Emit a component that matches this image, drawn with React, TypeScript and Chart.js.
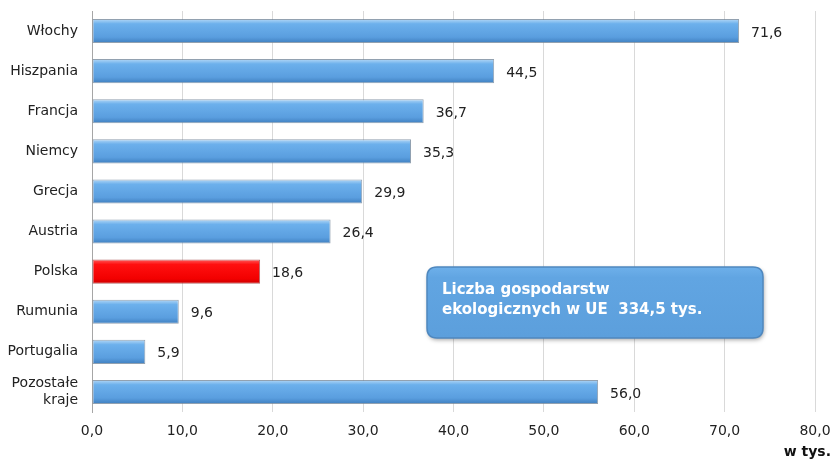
import React, { useEffect, useRef } from "react";
import { Chart, registerables } from "chart.js";

Chart.register(...registerables);

const categories: (string | string[])[] = [
  "Włochy",
  "Hiszpania",
  "Francja",
  "Niemcy",
  "Grecja",
  "Austria",
  "Polska",
  "Rumunia",
  "Portugalia",
  ["Pozostałe", "kraje"],
];
const values: number[] = [71.6, 44.5, 36.7, 35.3, 29.9, 26.4, 18.6, 9.6, 5.9, 56.0];
const highlightIndex = 6;
const xTicks: number[] = [0, 10, 20, 30, 40, 50, 60, 70, 80];
const axisUnit = "w tys.";
const boxLines: string[] = ["Liczba gospodarstw", "ekologicznych w UE  334,5 tys."];

const FONT = "'DejaVu Sans', Verdana, sans-serif";
const fmt = (v: number) => v.toFixed(1).replace(".", ",");

function roundRect(ctx: CanvasRenderingContext2D, x: number, y: number, w: number, h: number, r: number) {
  ctx.beginPath();
  ctx.moveTo(x + r, y);
  ctx.lineTo(x + w - r, y);
  ctx.quadraticCurveTo(x + w, y, x + w, y + r);
  ctx.lineTo(x + w, y + h - r);
  ctx.quadraticCurveTo(x + w, y + h, x + w - r, y + h);
  ctx.lineTo(x + r, y + h);
  ctx.quadraticCurveTo(x, y + h, x, y + h - r);
  ctx.lineTo(x, y + r);
  ctx.quadraticCurveTo(x, y, x + r, y);
  ctx.closePath();
}

const extrasPlugin = {
  id: "extras",
  afterDatasetsDraw(chart: any) {
    const ctx: CanvasRenderingContext2D = chart.ctx;
    const meta = chart.getDatasetMeta(0);
    ctx.save();
    ctx.font = `14px ${FONT}`;
    ctx.fillStyle = "#222";
    ctx.textAlign = "left";
    ctx.textBaseline = "middle";
    meta.data.forEach((bar: any, i: number) => {
      ctx.fillText(fmt(values[i]), bar.x + 12, bar.y + 2);
    });
    ctx.restore();
  },
  afterDraw(chart: any) {
    const ctx: CanvasRenderingContext2D = chart.ctx;
    ctx.save();
    ctx.shadowColor = "rgba(0,0,0,0.35)";
    ctx.shadowBlur = 4;
    ctx.shadowOffsetX = 1;
    ctx.shadowOffsetY = 2;
    roundRect(ctx, 427, 267, 336, 71, 10);
    const g = ctx.createLinearGradient(0, 267, 0, 338);
    g.addColorStop(0, "#6eb0ea");
    g.addColorStop(0.15, "#61a5e2");
    g.addColorStop(1, "#5c9fdc");
    ctx.fillStyle = g;
    ctx.fill();
    ctx.shadowColor = "transparent";
    ctx.lineWidth = 1.5;
    ctx.strokeStyle = "#4f88bf";
    ctx.stroke();
    ctx.fillStyle = "#ffffff";
    ctx.font = `bold 15px ${FONT}`;
    ctx.textAlign = "left";
    ctx.textBaseline = "middle";
    ctx.fillText(boxLines[0], 442, 290);
    ctx.fillText(boxLines[1], 442, 310);
    ctx.font = `bold 14px ${FONT}`;
    ctx.fillStyle = "#111";
    ctx.textAlign = "right";
    ctx.fillText(axisUnit, 831, 452);
    ctx.restore();
  },
};

function barFill(ctx: any) {
  const chart = ctx.chart;
  const red = ctx.dataIndex === highlightIndex;
  const base = red ? "#f00000" : "#5ea2e2";
  const ys = chart.scales && chart.scales.y;
  if (!ys || ctx.dataIndex === undefined) return base;
  const cy = ys.getPixelForValue(ctx.dataIndex);
  if (!Number.isFinite(cy)) return base;
  const half = 12;
  const g = chart.ctx.createLinearGradient(0, cy - half, 0, cy + half);
  if (red) {
    g.addColorStop(0, "#ff5a5a");
    g.addColorStop(0.2, "#ff1010");
    g.addColorStop(0.8, "#f20000");
    g.addColorStop(1, "#c80000");
  } else {
    g.addColorStop(0, "#b4d8f6");
    g.addColorStop(0.2, "#6cb0ec");
    g.addColorStop(0.75, "#5a9edf");
    g.addColorStop(1, "#3f7fbf");
  }
  return g;
}

export default function App() {
  const ref = useRef<HTMLCanvasElement | null>(null);
  useEffect(() => {
    document.body.style.margin = "0";
    const chart = new Chart(ref.current!, {
      type: "bar",
      data: {
        labels: categories as any,
        datasets: [
          {
            data: values,
            backgroundColor: barFill as any,
            borderColor: (c: any) => (c.dataIndex === highlightIndex ? "rgba(150,40,40,0.7)" : "rgba(110,130,150,0.75)"),
            borderWidth: 1,
            borderSkipped: false,
            barPercentage: 0.6,
            categoryPercentage: 1,
          },
        ],
      },
      options: {
        indexAxis: "y",
        animation: false,
        responsive: false,
        maintainAspectRatio: false,
        layout: { padding: { left: 0, right: 19, top: 11, bottom: 0 } },
        plugins: {
          legend: { display: false },
          tooltip: { enabled: false },
        },
        scales: {
          x: {
            min: 0,
            max: 80,
            afterBuildTicks: (axis: any) => {
              axis.ticks = xTicks.map((v) => ({ value: v }));
            },
            afterFit: (axis: any) => {
              axis.height = 47;
              axis.paddingLeft = 0;
              axis.paddingRight = 0;
            },
            ticks: {
              callback: (v: any) => fmt(Number(v)),
              font: { family: FONT, size: 14 },
              color: "#222",
              padding: 11,
              maxRotation: 0,
            },
            grid: { color: "#d9d9d9", drawTicks: false, lineWidth: 1 },
            border: { display: false },
          },
          y: {
            afterFit: (axis: any) => {
              axis.width = 92;
              axis.paddingTop = 0;
              axis.paddingBottom = 0;
            },
            ticks: {
              font: { family: FONT, size: 14 },
              color: "#222",
              padding: 6,
            },
            grid: { display: false },
            border: { display: true, color: "#a6a6a6" },
          },
        },
      },
      plugins: [extrasPlugin],
    });
    return () => chart.destroy();
  }, []);
  return (
    <div style={{ position: "absolute", left: 0, top: 0, width: 834, height: 459, background: "#fff" }}>
      <canvas ref={ref} width={834} height={459} style={{ width: 834, height: 459 }} />
    </div>
  );
}
